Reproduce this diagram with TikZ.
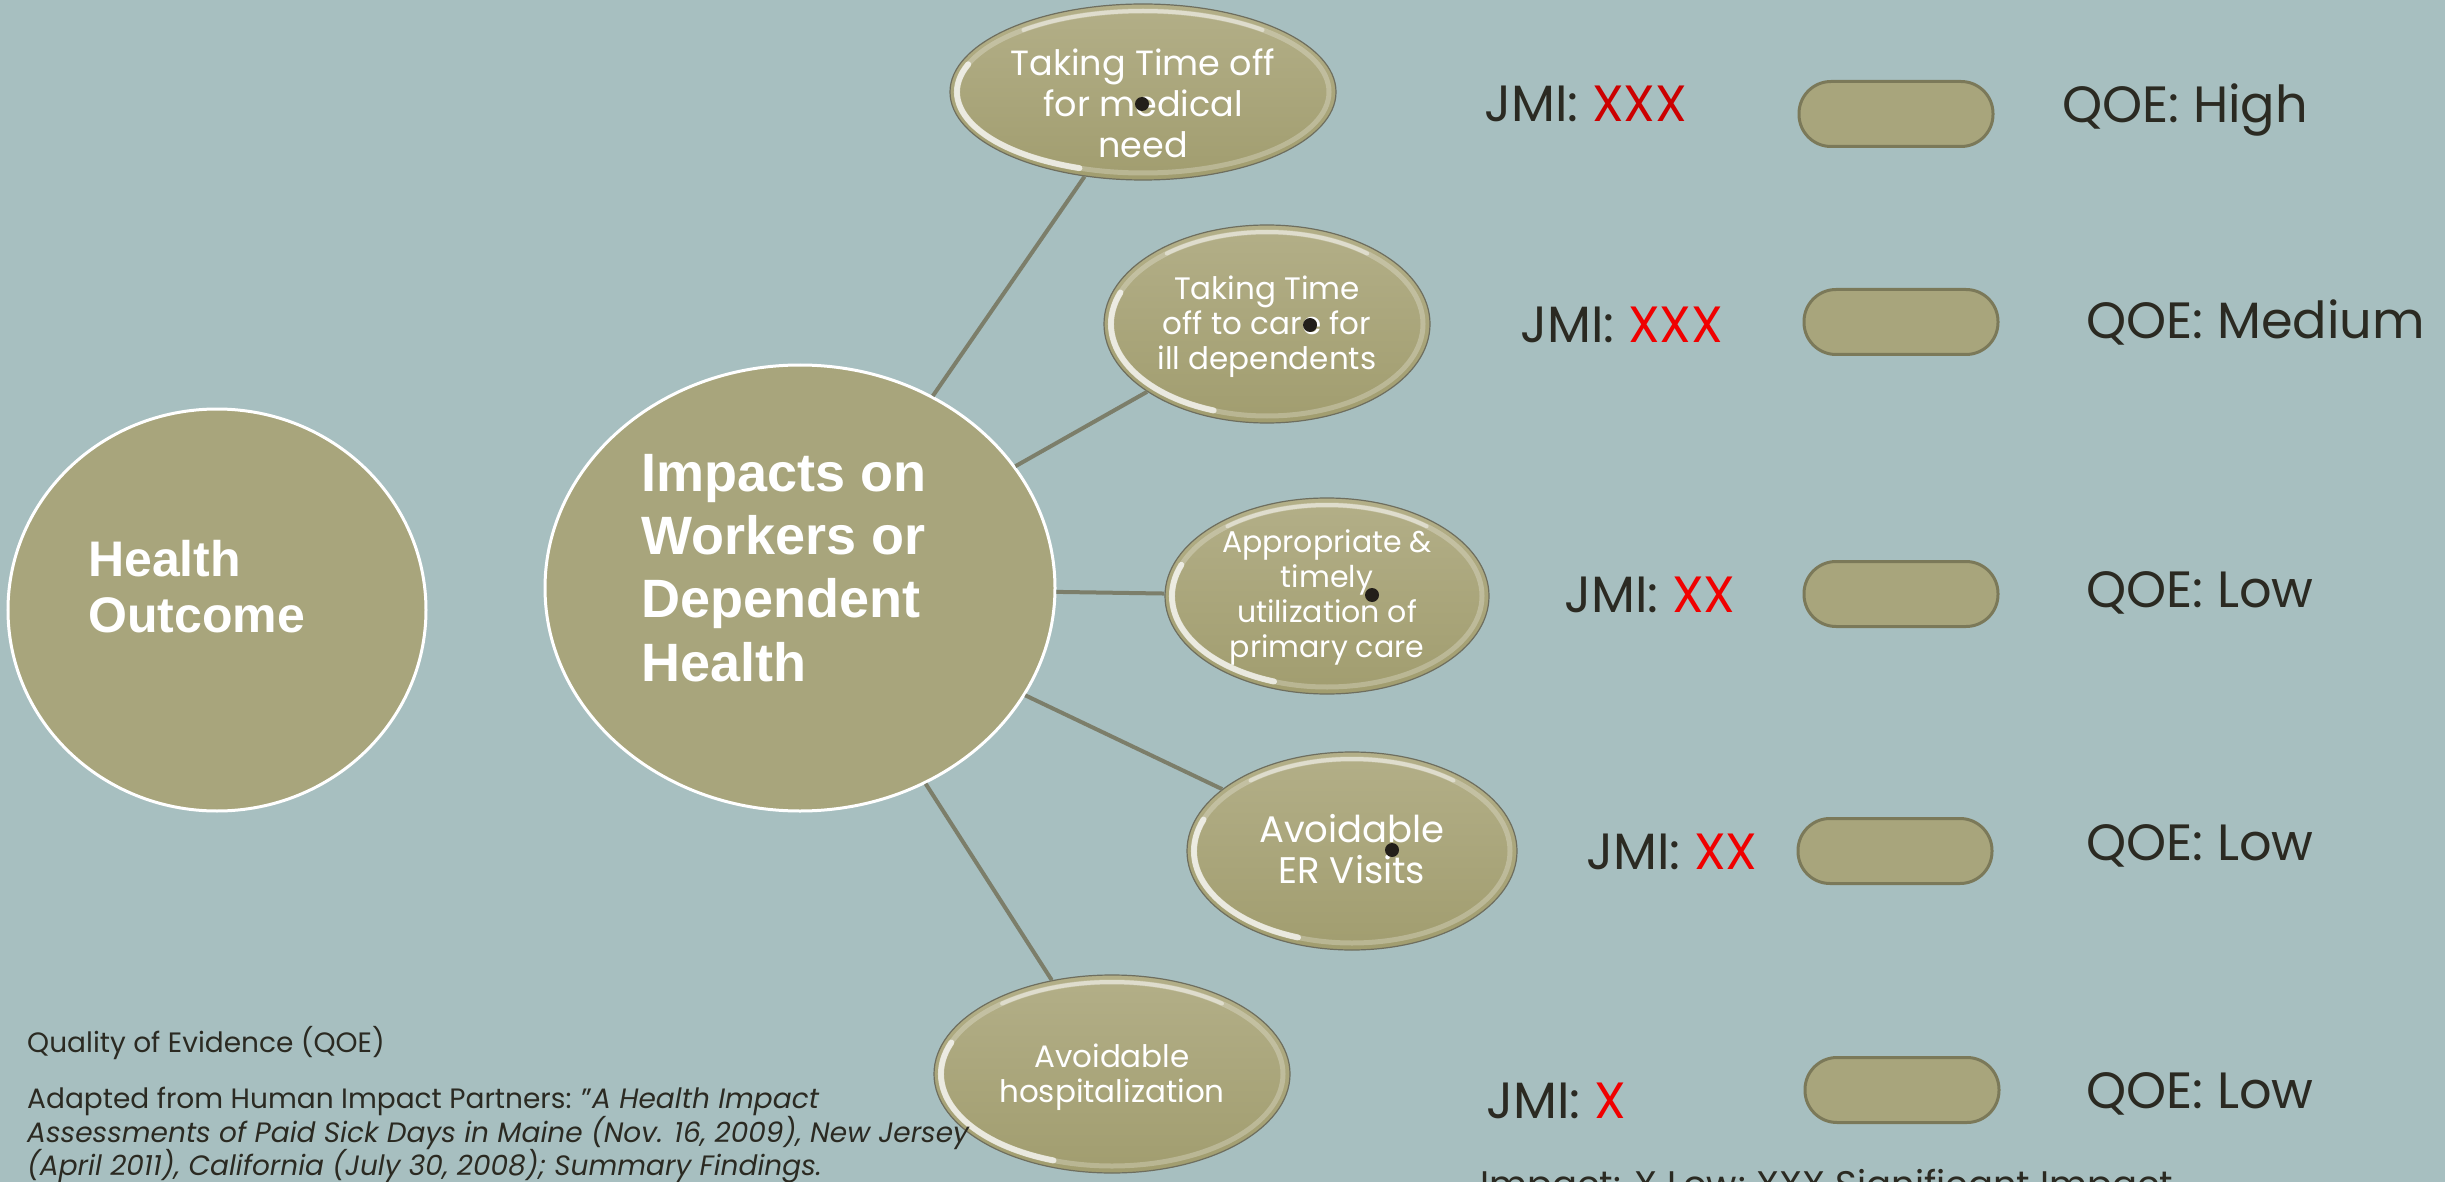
\documentclass[tikz,border=0pt]{standalone}
\usepackage{fontspec}
\setmainfont{Poppins}
\newfontfamily\arialfont{Liberation Sans}
\usetikzlibrary{shapes.geometric}
\definecolor{bgc}{HTML}{A7BFC0}
\definecolor{olive}{HTML}{A8A57C}
\definecolor{olivetop}{HTML}{B3AF88}
\definecolor{olivebot}{HTML}{A19D6F}
\definecolor{rimc}{HTML}{6E6E5E}
\definecolor{connc}{HTML}{7C7E6A}
\definecolor{ink}{HTML}{2B2A22}
\definecolor{pilledge}{HTML}{7B7959}
\definecolor{dotc}{HTML}{231F1A}
\definecolor{xred}{HTML}{F00000}
\definecolor{xredd}{HTML}{CC0000}
\tikzset{
  bigell/.style={ellipse, fill=olive, draw=white, line width=3pt, inner sep=0pt},
  smallell/.style={ellipse, top color=olivetop, bottom color=olivebot, draw=rimc, line width=1.2pt, inner sep=0pt},
  elltext/.style={text=white, align=center, inner sep=0pt},
  bigtext/.style={text=white, align=left, anchor=west, inner sep=0pt},
  pillbox/.style={rectangle, rounded corners=32pt, fill=olive, draw=pilledge, line width=3pt, minimum width=194pt, minimum height=65pt, inner sep=0pt},
  rowtext/.style={text=ink, anchor=base west, inner sep=0pt, font=\fontsize{51}{60}\selectfont},
  conn/.style={draw=connc, line width=4pt},
  cdot/.style={circle, fill=dotc, minimum size=14pt, inner sep=0pt},
  note/.style={text=ink, inner sep=0pt, align=left}
}
\newcommand\glossell[5]{%
  \node[smallell, minimum width=#4pt*2, minimum height=#5pt*2] (#1) at (#2,#3) {};
  \pgfmathsetmacro\rxi{#4-7}\pgfmathsetmacro\ryi{#5-7}%
  \begin{scope}
    \clip (#2,#3) ellipse [x radius=#4pt, y radius=#5pt];
    \draw[white, opacity=0.25, line width=5pt] (#2,#3) ellipse [x radius=\rxi pt, y radius=\ryi pt];
    \draw[white, opacity=0.7, line width=6pt, line cap=round] (#2,#3) ++(160:\rxi pt and \ryi pt) arc[start angle=160, end angle=250, x radius=\rxi pt, y radius=\ryi pt];
    \draw[white, opacity=0.45, line width=4pt, line cap=round] (#2,#3) ++(50:\rxi pt and \ryi pt) arc[start angle=50, end angle=130, x radius=\rxi pt, y radius=\ryi pt];
  \end{scope}
}
\begin{document}
\begin{tikzpicture}[x=1pt,y=-1pt]
\useasboundingbox (0,0) rectangle (2445,1182);
\clip (0,0) rectangle (2445,1182);
\fill[bgc] (0,0) rectangle (2445,1182);

% big ellipses
\node[bigell, minimum width=418pt, minimum height=402pt] (ho) at (217,610) {};
\node[bigtext, font=\arialfont\bfseries\fontsize{50}{56}\selectfont] (hot) at (88,587) {Health\\Outcome};
\node[bigell, minimum width=510pt, minimum height=446pt] (imp) at (800,588) {};
\node[bigtext, font=\arialfont\bfseries\fontsize{54}{63.3}\selectfont] (impt) at (641,568) {Impacts on\\Workers or\\Dependent\\Health};

% small glossy ellipses
\glossell{e1}{1143}{92}{193}{88}
\node[elltext, font=\fontsize{35}{41}\selectfont] (t1) at (1143,103) {Taking Time off\\for medical\\need};
\node[cdot] (d1) at (1142,104) {};

\glossell{e2}{1267}{324}{163}{99}
\node[elltext, font=\fontsize{31}{35}\selectfont] (t2) at (1267,327) {Taking Time\\off to care for\\ill dependents};
\node[cdot] (d2) at (1310,325) {};

\glossell{e3}{1327}{596}{162}{98}
\node[elltext, font=\fontsize{30}{35}\selectfont] (t3) at (1327,597) {Appropriate \&\\timely\\utilization of\\primary care};
\node[cdot] (d3) at (1372,595) {};

\glossell{e4}{1352}{851}{165}{99}
\node[elltext, font=\fontsize{37}{41}\selectfont] (t4) at (1352,849) {Avoidable\\ER Visits};
\node[cdot] (d4) at (1392,850) {};

\glossell{e5}{1112}{1074}{178}{99}
\node[elltext, font=\fontsize{31}{35}\selectfont] (t5) at (1112,1077) {Avoidable\\hospitalization};

% connectors
\draw[conn] (imp) -- (e1);
\draw[conn] (imp) -- (e2);
\draw[conn] (imp) -- (e3);
\draw[conn] (imp) -- (e4);
\draw[conn] (imp) -- (e5);

% rows
\node[rowtext] (j1) at (1484,122) {JMI: \textcolor{xredd}{XXX}};
\node[pillbox] (p1) at (1896,114) {};
\node[rowtext] (q1) at (2062,123) {QOE: High};

\node[rowtext] (j2) at (1520,342) {JMI: \textcolor{xred}{XXX}};
\node[pillbox] (p2) at (1901,322) {};
\node[rowtext] (q2) at (2086,338) {QOE: Medium};

\node[rowtext] (j3) at (1564,612) {JMI: \textcolor{xred}{XX}};
\node[pillbox] (p3) at (1901,594) {};
\node[rowtext] (q3) at (2086,607) {QOE: Low};

\node[rowtext] (j4) at (1586,869) {JMI: \textcolor{xred}{XX}};
\node[pillbox] (p4) at (1895,851) {};
\node[rowtext] (q4) at (2086,860) {QOE: Low};

\node[rowtext] (j5) at (1486,1118) {JMI: \textcolor{xred}{X}};
\node[pillbox] (p5) at (1902,1090) {};
\node[rowtext] (q5) at (2086,1108) {QOE: Low};

\node[text=ink, anchor=base west, inner sep=0pt, font=\fontsize{37}{44}\selectfont] (leg) at (1480,1197) {Impact: X Low; XXX Significant Impact};

% notes
\node[note, anchor=base west, font=\fontsize{28}{34}\selectfont] (n1) at (27,1052) {Quality of Evidence (QOE)};
\node[note, anchor=north west, font=\fontsize{28}{33.5}\selectfont] (n2) at (27,1087) {Adapted from Human Impact Partners: {"}\textit{A Health Impact}\\\textit{Assessments of Paid Sick Days in Maine (Nov. 16, 2009), New Jersey}\\\textit{(April 2011), California (July 30, 2008); Summary Findings.}};
\end{tikzpicture}
\end{document}
